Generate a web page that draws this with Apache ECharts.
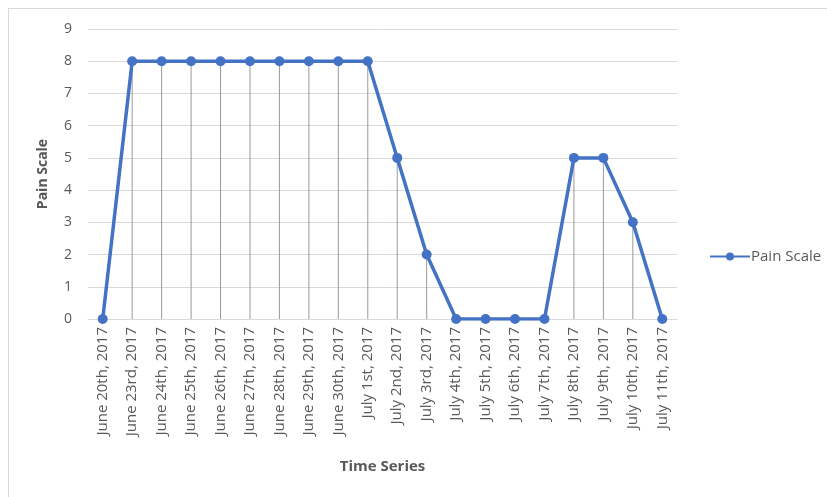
<!DOCTYPE html>
<html>
<head>
<meta charset="utf-8">
<script src="https://cdn.jsdelivr.net/npm/echarts@6/dist/echarts.min.js"></script>
<style>
  html, body { margin: 0; padding: 0; background: #fff; }
  #frame { position: absolute; left: 8px; top: 8px; width: 830px; height: 500px; border: 1px solid #d9d9d9; box-sizing: border-box; }
  #chart { position: absolute; left: 0; top: 0; width: 827px; height: 497px; }
</style>
</head>
<body>
<div id="frame"></div>
<div id="chart"></div>
<script>
const dates = [
  "June 20th, 2017", "June 23rd, 2017", "June 24th, 2017", "June 25th, 2017",
  "June 26th, 2017", "June 27th, 2017", "June 28th, 2017", "June 29th, 2017",
  "June 30th, 2017", "July 1st, 2017", "July 2nd, 2017", "July 3rd, 2017",
  "July 4th, 2017", "July 5th, 2017", "July 6th, 2017", "July 7th, 2017",
  "July 8th, 2017", "July 9th, 2017", "July 10th, 2017", "July 11th, 2017"
];
const painScale = [0, 8, 8, 8, 8, 8, 8, 8, 8, 8, 5, 2, 0, 0, 0, 0, 5, 5, 3, 0];
const yTicks = [0, 1, 2, 3, 4, 5, 6, 7, 8, 9];

const font = "'Open Sans', 'Noto Sans', sans-serif";
const chart = echarts.init(document.getElementById("chart"));
chart.setOption({
  animation: false,
  textStyle: { fontFamily: font },
  grid: { left: 88, right: 150, top: 29, bottom: 178 },
  legend: {
    data: ["Pain Scale"],
    left: 704,
    top: 244,
    itemWidth: 40,
    itemHeight: 10,
    itemGap: 2,
    textStyle: { color: "#595959", fontSize: 15, fontFamily: font, padding: [0, 0, 0, -4] }
  },
  xAxis: {
    type: "category",
    data: dates,
    boundaryGap: true,
    name: "Time Series",
    nameLocation: "middle",
    nameGap: 140,
    nameTextStyle: { color: "#595959", fontSize: 15, fontWeight: "bold", fontFamily: font },
    axisLine: { lineStyle: { color: "#d9d9d9" } },
    axisTick: { show: false },
    axisLabel: { rotate: 90, color: "#595959", fontSize: 15, margin: 8, interval: 0 }
  },
  yAxis: {
    type: "value",
    min: yTicks[0],
    max: yTicks[yTicks.length - 1],
    interval: 1,
    name: "Pain Scale",
    nameLocation: "middle",
    nameGap: 38,
    nameTextStyle: { color: "#595959", fontSize: 14, fontWeight: "bold", fontFamily: font },
    axisLine: { show: false },
    axisTick: { show: false },
    axisLabel: { color: "#595959", fontSize: 14, margin: 16 },
    splitLine: { lineStyle: { color: "#d9d9d9" } }
  },
  series: [
    {
      name: "drop",
      type: "bar",
      data: painScale,
      barWidth: 1,
      itemStyle: { color: "#999999" },
      silent: true,
      z: 1
    },
    {
      name: "Pain Scale",
      type: "line",
      data: painScale,
      symbol: "circle",
      symbolSize: 10,
      lineStyle: { color: "#4472C4", width: 3.5 },
      itemStyle: { color: "#4472C4" },
      z: 3
    }
  ]
});
</script>
</body>
</html>
